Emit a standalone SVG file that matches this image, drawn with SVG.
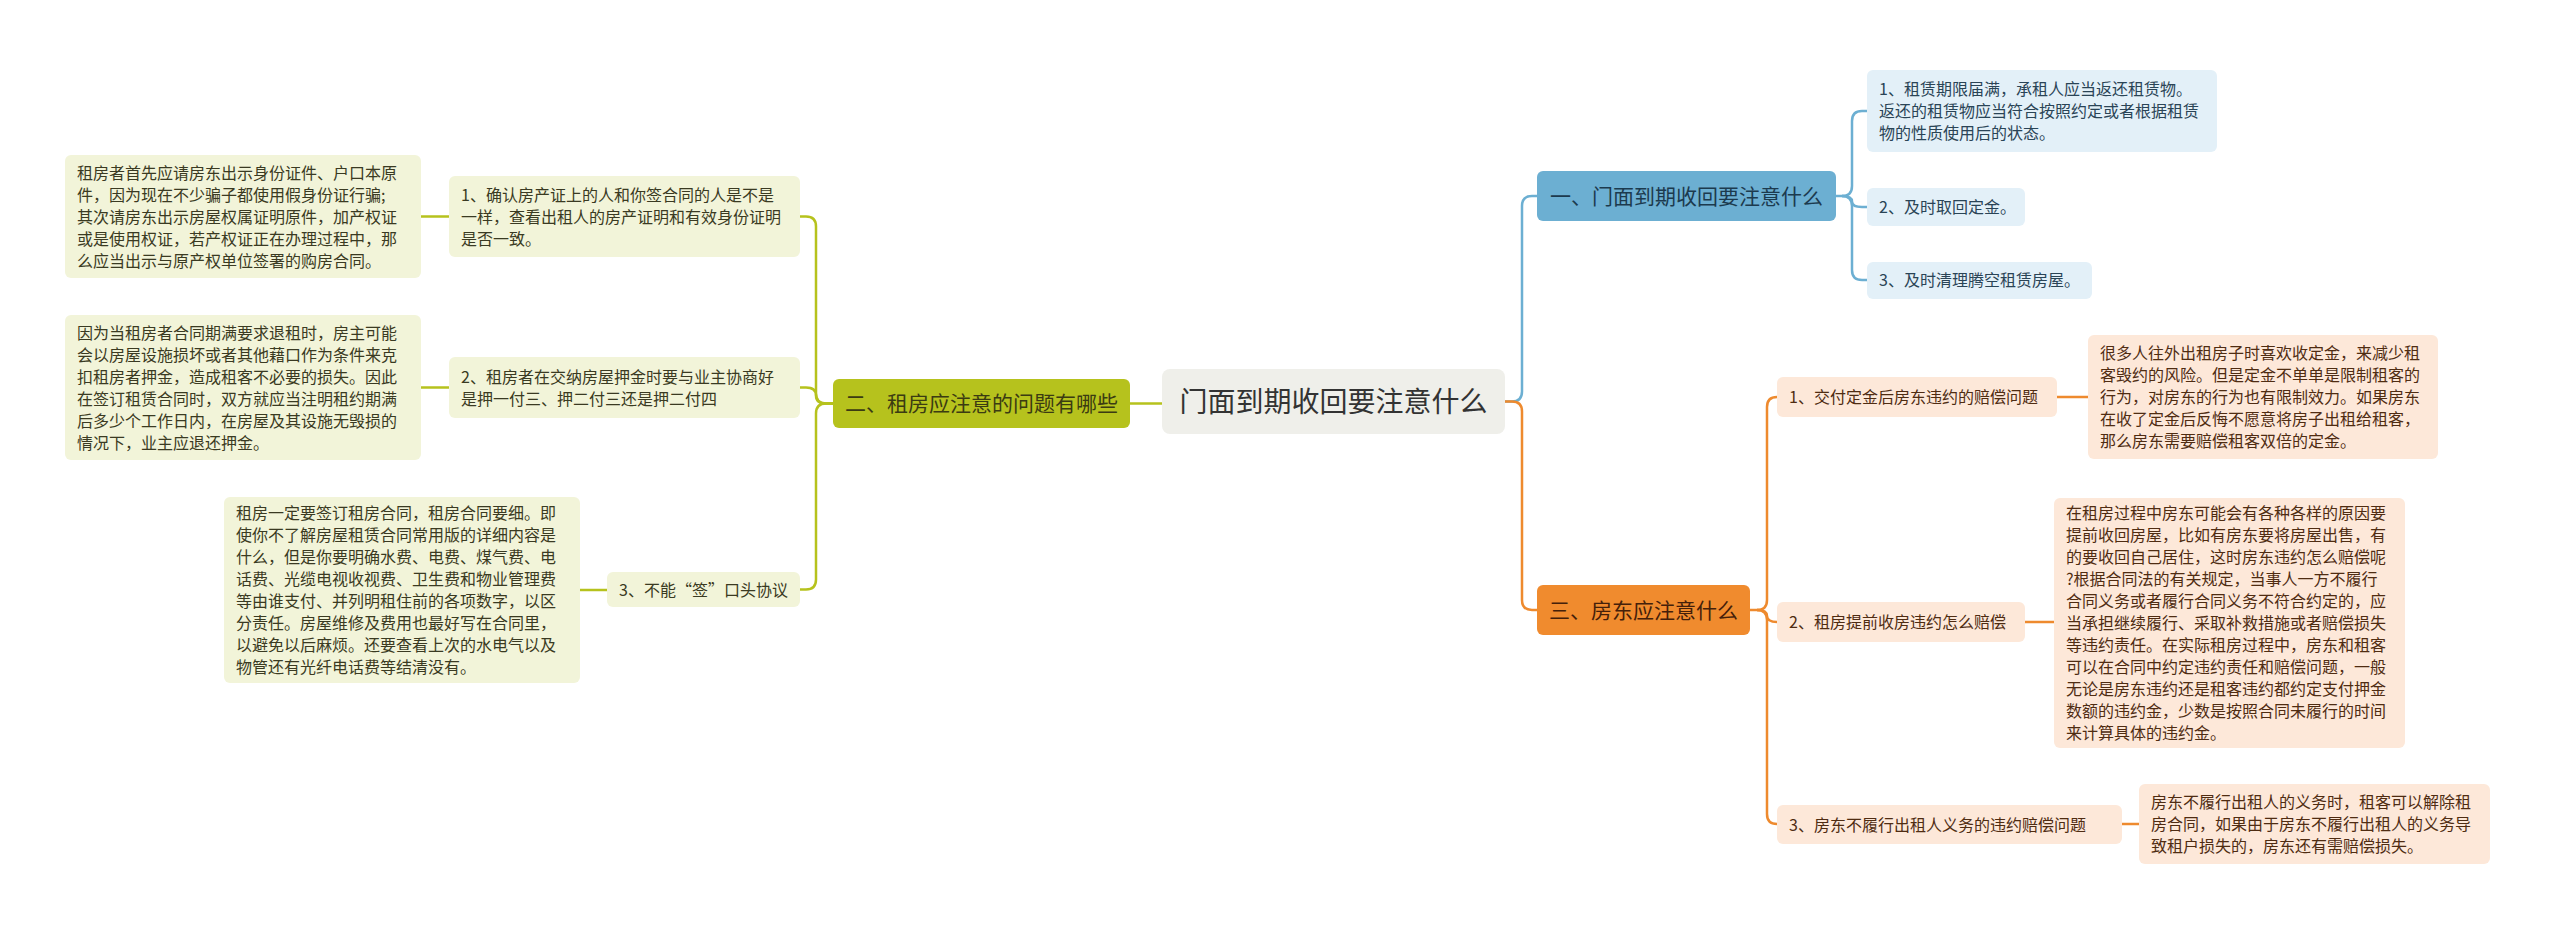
<svg xmlns="http://www.w3.org/2000/svg" width="2560" height="935" viewBox="0 0 2560 935">
<style>
text{font-family:"Noto Sans CJK SC","Noto Sans",sans-serif;}
.t16{font-size:16px;}
.g{fill:#f2f4d9;}
.gt{fill:#3a3a22;}
.b{fill:#e3f0f8;}
.bt{fill:#2a4456;}
.o{fill:#fde8d9;}
.ot{fill:#4f2c12;}
.cg{stroke:#b6c21d;}
.cb{stroke:#6cafd2;}
.co{stroke:#ee8a2e;}
#connectors path{fill:none;stroke-width:2.5;}
</style>
<rect width="2560" height="935" fill="#ffffff"/>
<g id="connectors">
<path class="cg" d="M1130,403.5 H1162"/>
<path class="cg" d="M833,403.5 H826 Q816,403.5 816,393.5 V226.5 Q816,216.5 806,216.5 H800"/>
<path class="cg" d="M833,403.5 H826 Q816,403.5 816,395.5 Q816,387.5 806,387.5 H800"/>
<path class="cg" d="M833,403.5 H826 Q816,403.5 816,413.5 V579.5 Q816,589.5 806,589.5 H800"/>
<path class="cg" d="M421,216.5 H449"/>
<path class="cg" d="M421,387.5 H449"/>
<path class="cg" d="M580,590 H607"/>
<path class="cb" d="M1505,401.5 H1512 Q1522,401.5 1522,391.5 V206 Q1522,196 1532,196 H1537"/>
<path class="cb" d="M1836,196 H1842 Q1852,196 1852,186 V121 Q1852,111 1862,111 H1867"/>
<path class="cb" d="M1842,196 Q1852,196 1852,201.5 Q1852,207 1862,207 H1867"/>
<path class="cb" d="M1842,196 Q1852,196 1852,206 V270 Q1852,280 1862,280 H1867"/>
<path class="co" d="M1505,401.5 H1512 Q1522,401.5 1522,411.5 V600 Q1522,610 1532,610 H1537"/>
<path class="co" d="M1750,610 H1757 Q1767,610 1767,600 V407 Q1767,397 1777,397"/>
<path class="co" d="M1757,610 Q1767,610 1767,616 Q1767,622 1777,622"/>
<path class="co" d="M1757,610 Q1767,610 1767,620 V814 Q1767,824 1777,824"/>
<path class="co" d="M2057,397 H2088"/>
<path class="co" d="M2025,622 H2054"/>
<path class="co" d="M2122,824 H2139"/>
</g>
<g id="center">
<rect x="1162" y="369" width="343" height="65" rx="8" fill="#efefea"/>
<text x="1333.5" y="411.5" font-size="28" text-anchor="middle" fill="#333333">门面到期收回要注意什么</text>
</g>
<g id="branch-left">
<rect x="833" y="379" width="297" height="49" rx="6" fill="#b6c21d"/>
<text x="981.5" y="411" font-size="21" text-anchor="middle" fill="#3b3b12">二、租房应注意的问题有哪些</text>
</g>
<g id="branch-blue">
<rect x="1537" y="171" width="299" height="50" rx="6" fill="#6cafd2"/>
<text x="1686.5" y="203.5" font-size="21" text-anchor="middle" fill="#1c3a4e">一、门面到期收回要注意什么</text>
</g>
<g id="branch-orange">
<rect x="1537" y="585" width="213" height="50" rx="6" fill="#f08b2e"/>
<text x="1643.5" y="617.5" font-size="21" text-anchor="middle" fill="#44200a">三、房东应注意什么</text>
</g>
<g id="mid1">
<rect class="g" x="449" y="176" width="351" height="81" rx="6"/>
<text class="t16 gt" x="461"><tspan x="461" y="200.5">1、确认房产证上的人和你签合同的人是不是</tspan><tspan x="461" y="222.5">一样，查看出租人的房产证明和有效身份证明</tspan><tspan x="461" y="244.5">是否一致。</tspan></text>
</g>
<g id="mid2">
<rect class="g" x="449" y="357" width="351" height="61" rx="6"/>
<text class="t16 gt" x="461"><tspan x="461" y="382.5">2、租房者在交纳房屋押金时要与业主协商好</tspan><tspan x="461" y="404.5">是押一付三、押二付三还是押二付四</tspan></text>
</g>
<g id="mid3">
<rect class="g" x="607" y="572" width="193" height="35" rx="6"/>
<text class="t16 gt" x="619" y="595.5">3、不能“签”口头协议</text>
</g>
<g id="leaf-l1">
<rect class="g" x="65" y="155" width="356" height="123" rx="6"/>
<text class="t16 gt" x="77"><tspan x="77" y="178.5">租房者首先应请房东出示身份证件、户口本原</tspan><tspan x="77" y="200.5">件，因为现在不少骗子都使用假身份证行骗;</tspan><tspan x="77" y="222.5">其次请房东出示房屋权属证明原件，加产权证</tspan><tspan x="77" y="244.5">或是使用权证，若产权证正在办理过程中，那</tspan><tspan x="77" y="266.5">么应当出示与原产权单位签署的购房合同。</tspan></text>
</g>
<g id="leaf-l2">
<rect class="g" x="65" y="315" width="356" height="145" rx="6"/>
<text class="t16 gt" x="77"><tspan x="77" y="338.5">因为当租房者合同期满要求退租时，房主可能</tspan><tspan x="77" y="360.5">会以房屋设施损坏或者其他藉口作为条件来克</tspan><tspan x="77" y="382.5">扣租房者押金，造成租客不必要的损失。因此</tspan><tspan x="77" y="404.5">在签订租赁合同时，双方就应当注明租约期满</tspan><tspan x="77" y="426.5">后多少个工作日内，在房屋及其设施无毁损的</tspan><tspan x="77" y="448.5">情况下，业主应退还押金。</tspan></text>
</g>
<g id="leaf-l3">
<rect class="g" x="224" y="497" width="356" height="186" rx="6"/>
<text class="t16 gt" x="236"><tspan x="236" y="519">租房一定要签订租房合同，租房合同要细。即</tspan><tspan x="236" y="541">使你不了解房屋租赁合同常用版的详细内容是</tspan><tspan x="236" y="563">什么，但是你要明确水费、电费、煤气费、电</tspan><tspan x="236" y="585">话费、光缆电视收视费、卫生费和物业管理费</tspan><tspan x="236" y="607">等由谁支付、并列明租住前的各项数字，以区</tspan><tspan x="236" y="629">分责任。房屋维修及费用也最好写在合同里，</tspan><tspan x="236" y="651">以避免以后麻烦。还要查看上次的水电气以及</tspan><tspan x="236" y="673">物管还有光纤电话费等结清没有。</tspan></text>
</g>
<g id="leaf-b1">
<rect class="b" x="1867" y="70" width="350" height="82" rx="6"/>
<text class="t16 bt" x="1879"><tspan x="1879" y="95">1、租赁期限届满，承租人应当返还租赁物。</tspan><tspan x="1879" y="117">返还的租赁物应当符合按照约定或者根据租赁</tspan><tspan x="1879" y="139">物的性质使用后的状态。</tspan></text>
</g>
<g id="leaf-b2">
<rect class="b" x="1867" y="188" width="158" height="38" rx="6"/>
<text class="t16 bt" x="1879" y="213">2、及时取回定金。</text>
</g>
<g id="leaf-b3">
<rect class="b" x="1867" y="262" width="225" height="37" rx="6"/>
<text class="t16 bt" x="1879" y="286">3、及时清理腾空租赁房屋。</text>
</g>
<g id="mid-o1">
<rect class="o" x="1777" y="377" width="280" height="40" rx="6"/>
<text class="t16 ot" x="1789" y="403">1、交付定金后房东违约的赔偿问题</text>
</g>
<g id="mid-o2">
<rect class="o" x="1777" y="602" width="248" height="40" rx="6"/>
<text class="t16 ot" x="1789" y="628">2、租房提前收房违约怎么赔偿</text>
</g>
<g id="mid-o3">
<rect class="o" x="1777" y="805" width="345" height="39" rx="6"/>
<text class="t16 ot" x="1789" y="830.5">3、房东不履行出租人义务的违约赔偿问题</text>
</g>
<g id="leaf-o1">
<rect class="o" x="2088" y="335" width="350" height="124" rx="6"/>
<text class="t16 ot" x="2100"><tspan x="2100" y="359">很多人往外出租房子时喜欢收定金，来减少租</tspan><tspan x="2100" y="381">客毁约的风险。但是定金不单单是限制租客的</tspan><tspan x="2100" y="403">行为，对房东的行为也有限制效力。如果房东</tspan><tspan x="2100" y="425">在收了定金后反悔不愿意将房子出租给租客，</tspan><tspan x="2100" y="447">那么房东需要赔偿租客双倍的定金。</tspan></text>
</g>
<g id="leaf-o2">
<rect class="o" x="2054" y="498" width="351" height="250" rx="6"/>
<text class="t16 ot" x="2066"><tspan x="2066" y="519">在租房过程中房东可能会有各种各样的原因要</tspan><tspan x="2066" y="541">提前收回房屋，比如有房东要将房屋出售，有</tspan><tspan x="2066" y="563">的要收回自己居住，这时房东违约怎么赔偿呢</tspan><tspan x="2066" y="585">?根据合同法的有关规定，当事人一方不履行</tspan><tspan x="2066" y="607">合同义务或者履行合同义务不符合约定的，应</tspan><tspan x="2066" y="629">当承担继续履行、采取补救措施或者赔偿损失</tspan><tspan x="2066" y="651">等违约责任。在实际租房过程中，房东和租客</tspan><tspan x="2066" y="673">可以在合同中约定违约责任和赔偿问题，一般</tspan><tspan x="2066" y="695">无论是房东违约还是租客违约都约定支付押金</tspan><tspan x="2066" y="717">数额的违约金，少数是按照合同未履行的时间</tspan><tspan x="2066" y="739">来计算具体的违约金。</tspan></text>
</g>
<g id="leaf-o3">
<rect class="o" x="2139" y="784" width="351" height="80" rx="6"/>
<text class="t16 ot" x="2151"><tspan x="2151" y="808">房东不履行出租人的义务时，租客可以解除租</tspan><tspan x="2151" y="830">房合同，如果由于房东不履行出租人的义务导</tspan><tspan x="2151" y="852">致租户损失的，房东还有需赔偿损失。</tspan></text>
</g>
</svg>
